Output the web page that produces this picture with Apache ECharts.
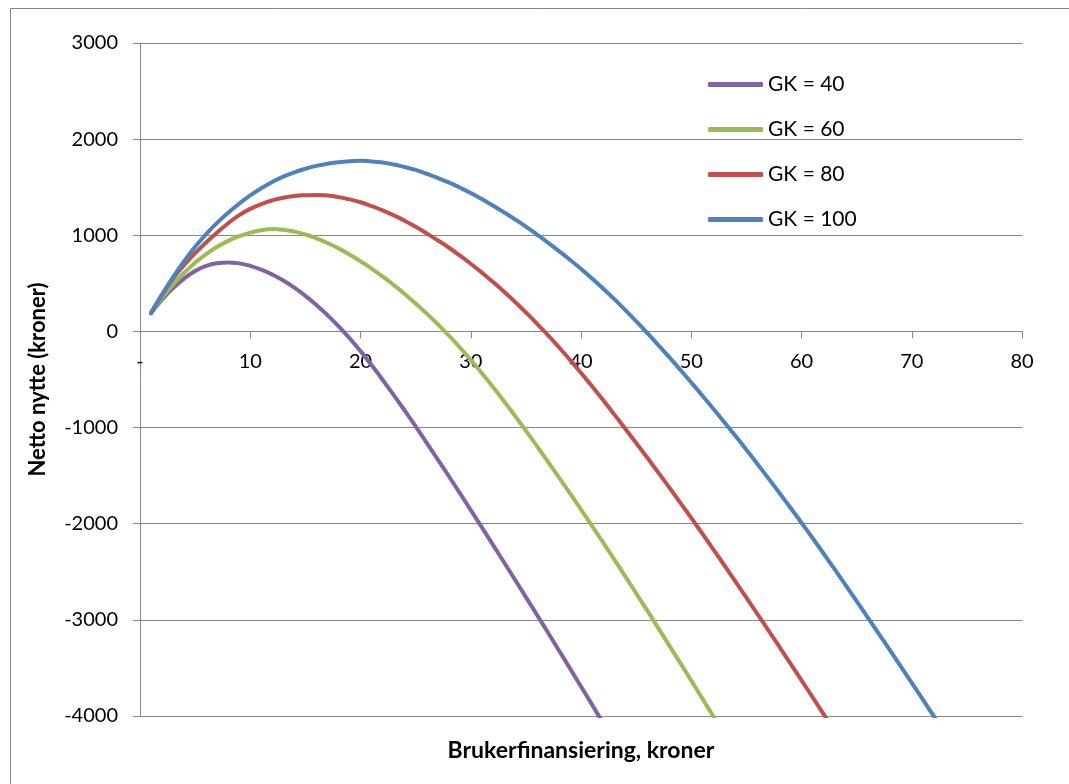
<!DOCTYPE html>
<html>
<head>
<meta charset="utf-8">
<script src="https://cdn.jsdelivr.net/npm/echarts@6/dist/echarts.min.js"></script>
<style>
html,body{margin:0;padding:0;background:#fff;}
#chart{width:1069px;height:784px;}
</style>
</head>
<body>
<div id="chart"></div>
<script>
// Brukerfinansiering (kroner) – x values
const brukerfinansiering = [1,2,3,4,5,6,7,8,9,10,11,12,13,14,15,16,17,18,19,20,21,22,23,24,25,26,27,28,29,30,
  31,32,33,34,35,36,37,38,39,40,41,42,43,44,45,46,47,48,49,50,51,52,53,54,55,56,57,58,59,60,
  61,62,63,64,65,66,67,68,69,70,71,72,73];

// Netto nytte (kroner) for each GK
const gk40 = [190,330,450,550,628,682,710,718,708,682,643,592,530,455,370,275,170,55,-70,-205,
  -350,-502,-660,-822,-988,-1158,-1330,-1504,-1680,-1858,-2037,-2217,-2398,-2580,-2763,-2947,-3132,-3318,-3505,-3693,
  -3882,-4072];
const gk60 = [190,350,490,610,715,805,880,942,990,1028,1053,1065,1058,1038,1008,968,920,864,800,730,
  654,572,484,390,290,186,76,-42,-165,-295,-432,-575,-723,-876,-1033,-1193,-1355,-1519,-1685,-1853,
  -2023,-2195,-2369,-2545,-2723,-2902,-3083,-3265,-3448,-3632,-3817,-4003,-4190];
const gk80 = [190,380,550,690,815,925,1030,1125,1210,1275,1325,1363,1390,1408,1417,1420,1413,1397,1373,1344,
  1304,1259,1208,1152,1088,1020,948,873,790,704,612,516,415,309,198,82,-39,-165,-296,-431,
  -570,-713,-860,-1010,-1160,-1312,-1466,-1622,-1780,-1940,-2102,-2266,-2432,-2600,-2769,-2939,-3110,-3282,-3455,-3629,
  -3804,-3980,-4157];
const gk100 = [190,385,565,730,880,1012,1130,1235,1330,1415,1490,1555,1610,1655,1692,1722,1745,1760,1770,1775,
  1768,1757,1737,1710,1680,1640,1597,1550,1497,1440,1377,1310,1240,1167,1090,1008,924,836,745,650,
  551,447,338,224,106,-16,-141,-268,-398,-531,-666,-804,-944,-1086,-1231,-1378,-1528,-1680,-1834,-1990,
  -2149,-2310,-2473,-2638,-2805,-2973,-3142,-3312,-3483,-3655,-3828,-4002,-4176];

const seriesNames = ['GK = 40','GK = 60','GK = 80','GK = 100'];
const seriesValues = [gk40, gk60, gk80, gk100];
const seriesColors = ['#8064A2','#9BBB59','#C0504D','#4F81BD'];

const yMin = -4000, yMax = 3000, yStep = 1000;
const xMin = 0, xMax = 80, xStep = 10;

const xTickZeroLabel = '-';
const xAxisTitle = 'Brukerfinansiering, kroner';
const yAxisTitle = 'Netto nytte (kroner)';

const FONT = 'Lato';
const GRID_COLOR = '#868686';

const W = 1069, H = 784;
const gridLeft = 140, gridRight = 47, gridTop = 43, gridBottom = 68;
const gridHeight = H - gridTop - gridBottom;
// Move the x axis line up to the value 0 (the way Excel crosses it at zero)
const zeroY = gridTop + (yMax - 0) / (yMax - yMin) * gridHeight;
const xAxisOffset = -((gridTop + gridHeight) - zeroY);

const chart = echarts.init(document.getElementById('chart'), null, {renderer: 'canvas'});

const series = seriesValues.map((vals, s) => ({
  name: seriesNames[s],
  type: 'line',
  data: vals.map((v, i) => [brukerfinansiering[i], v]),
  smooth: true,
  symbol: 'none',
  clip: true,
  z: 5,
  color: seriesColors[s],
  lineStyle: {width: 4, color: seriesColors[s], cap: 'round', join: 'round'},
  itemStyle: {color: seriesColors[s]},
  emphasis: {disabled: true}
}));

chart.setOption({
  animation: false,
  backgroundColor: '#ffffff',
  textStyle: {fontFamily: FONT},
  graphic: [{
    type: 'rect',
    shape: {x: 10.5, y: 8.5, width: 1200, height: 1000},
    style: {fill: 'none', stroke: GRID_COLOR, lineWidth: 1},
    silent: true,
    z: -1
  }],
  grid: {left: gridLeft, right: gridRight, top: gridTop, bottom: gridBottom, containLabel: false, outerBoundsMode: 'none'},
  legend: {
    show: true,
    orient: 'vertical',
    left: 703,
    top: 69,
    itemWidth: 55,
    itemHeight: 5,
    itemGap: 24,
    icon: 'roundRect',
    data: seriesNames,
    z: 6,
    textStyle: {fontFamily: FONT, fontSize: 21, color: '#000', lineHeight: 21},
    selectedMode: false
  },
  xAxis: {
    type: 'value',
    position: 'bottom',
    offset: xAxisOffset,
    min: xMin,
    max: xMax,
    interval: xStep,
    name: xAxisTitle,
    nameLocation: 'middle',
    nameGap: 408,
    nameTextStyle: {fontFamily: FONT, fontSize: 23, fontWeight: 'bold', color: '#000'},
    axisLine: {show: true, onZero: false, lineStyle: {color: GRID_COLOR, width: 1}},
    axisTick: {show: true, inside: false, length: 7, lineStyle: {color: GRID_COLOR}},
    axisLabel: {
      margin: 20,
      fontFamily: FONT, fontSize: 20, color: '#000',
      formatter: v => (v === 0 ? xTickZeroLabel : String(v))
    },
    splitLine: {show: false}
  },
  yAxis: {
    type: 'value',
    min: yMin,
    max: yMax,
    interval: yStep,
    name: yAxisTitle,
    nameLocation: 'middle',
    nameGap: 91,
    nameRotate: 90,
    nameTextStyle: {fontFamily: FONT, fontSize: 22, fontWeight: 'bold', color: '#000'},
    axisLine: {show: true, onZero: false, lineStyle: {color: GRID_COLOR, width: 1}},
    axisTick: {show: true, inside: false, length: 7, lineStyle: {color: GRID_COLOR}},
    axisLabel: {margin: 22, fontFamily: FONT, fontSize: 20, color: '#000', formatter: v => String(v)},
    splitLine: {show: true, lineStyle: {color: GRID_COLOR, width: 1}}
  },
  series: series
});
</script>
</body>
</html>
